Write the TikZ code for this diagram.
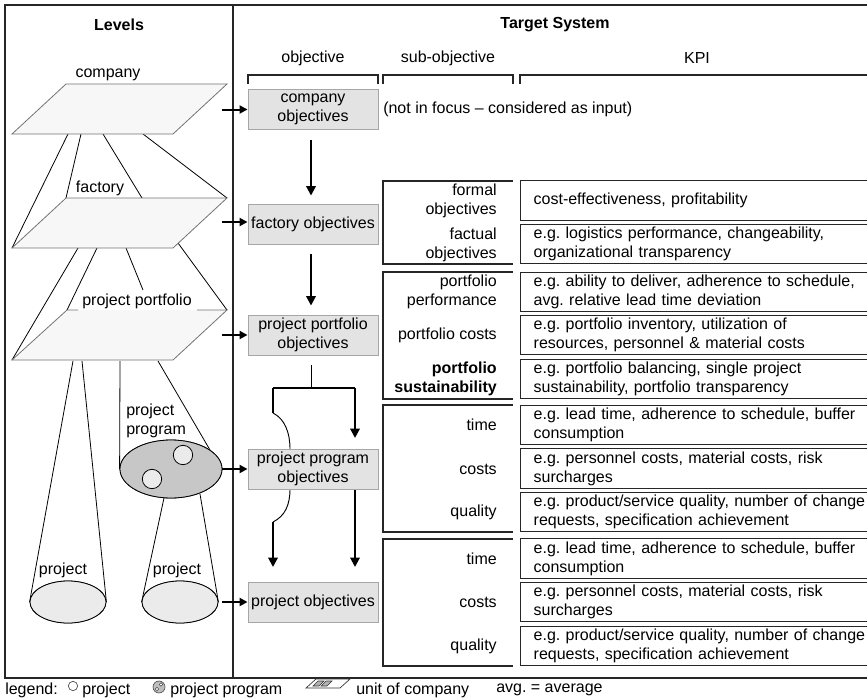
\documentclass[tikz,border=0pt]{standalone}
\usepackage{fontspec}
\setmainfont{Liberation Sans}
\usetikzlibrary{arrows.meta,calc,shapes.geometric}
\frenchspacing
\begin{document}
\begin{tikzpicture}[x=0.75pt,y=-0.75pt,
  every node/.style={font=\fontsize{12}{14.2}\selectfont, inner sep=0pt},
  objbox/.style={draw=black!35, fill=black!11, minimum width=97.5pt, minimum height=30pt, align=center, line width=0.7pt},
  kpi/.style={draw=black!85, line width=1pt, minimum height=29.6pt, text width=300pt, align=left, inner xsep=9.75pt, anchor=west},
  sublbl/.style={anchor=east, align=right},
  grp/.style={draw=black!85, line width=1pt},
  hdr/.style={draw=black!85, line width=1pt},
  frame/.style={draw=black!85, line width=1.1pt},
  level/.style={draw=black!55, fill=black!3, line width=0.6pt},
  cone/.style={draw=black, line width=0.6pt},
  inarrow/.style={line width=1.5pt, -{Triangle[length=6pt,width=6pt]}},
  thickarrow/.style={line width=1.5pt, -{Triangle[length=7pt,width=7pt]}},
  thinline/.style={line width=0.7pt},
  thickline/.style={line width=1.5pt},
  projell/.style={draw=black, ellipse, fill=black!8, line width=0.6pt, minimum width=57pt, minimum height=31.5pt},
  progell/.style={draw=black, ellipse, fill=black!22, line width=0.6pt, minimum width=76.5pt, minimum height=43.5pt},
  smallcirc/.style={draw=black, circle, fill=black!8, line width=0.6pt, minimum size=14.5pt}
]
\useasboundingbox (0,0) rectangle (867,699);

% frame
\draw[frame] (5,5) rectangle (890,678);
\draw[frame] (233,5) -- (233,678);

% headers
\node[font=\fontsize{12}{14}\selectfont\bfseries] (hlev) at (119,25) {Levels};
\node[font=\fontsize{12}{14}\selectfont\bfseries] (hts) at (555,25) {Target System};
\node (hobj) at (313,58) {objective};
\node (hsub) at (448,58) {sub-objective};
\node (hkpi) at (697,58) {KPI};
\draw[hdr] (248,84) -- (248,75) -- (378,75) -- (378,84);
\draw[hdr] (383,84) -- (383,75) -- (513,75) -- (513,84);
\draw[hdr] (520,84) -- (520,75) -- (900,75);

% ---------- Levels ----------
% connecting lines company -> factory
\draw[cone] (68,134) -- (12,248);
\draw[cone] (81,134) -- (66,198);
\draw[cone] (103,134) -- (142,198);
\draw[cone] (143,134) -- (227,198);
% factory -> portfolio
\draw[cone] (78,248) -- (12,360);
\draw[cone] (97,248) -- (67,310);
\draw[cone] (126,248) -- (143,290);
\draw[cone] (178,243) -- (227,310);

\filldraw[level] (66,84) -- (227,84) -- (173,134) -- (12,134) -- cycle;
\filldraw[level] (66,198) -- (227,198) -- (173,248) -- (12,248) -- cycle;
\fill[black!3] (67,310) -- (227,310) -- (173,360) -- (12,360) -- cycle;
\draw[level] (78,310) -- (67,310) -- (12,360) -- (173,360) -- (227,310) -- (197,310);

\node (lcomp) at (108,75) {company};
\node (lfact) at (100,188) {factory};
\node (lport) at (137,301) {project portfolio};

% project program and projects
\node[progell] (pp) at (171,469) {};
\node[projell] (pa) at (68,602) {};
\node[projell] (pb) at (180,602) {};
\draw[cone] (73,361) -- (pa.west);
\draw[cone] (82,361) -- (pa.east);
\draw[cone] (120,361) -- (pp.west);
\draw[cone] (158,361) -- (210,450);
\draw[cone] (164,498) -- (pb.west);
\draw[cone] (200,494) -- (pb.east);
\node[progell] at (171,469) {};
\node[projell] at (68,602) {};
\node[projell] at (180,602) {};
\node[smallcirc] (c1) at (183,455) {};
\node[smallcirc] (c2) at (152,479) {};
\node[anchor=west, align=left] (lprog) at (126,421) {project\\program};
\node (lpa) at (63,570) {project};
\node (lpb) at (177,570) {project};

% ---------- objectives ----------
\node[objbox] (co) at (313,109.5) {company\\objectives};
\node[objbox] (fa) at (313,224) {factory objectives};
\node[objbox] (po) at (313,335) {project portfolio\\objectives};
\node[objbox] (pg) at (313,469) {project program\\objectives};
\node[objbox] (pj) at (313,602) {project objectives};

\coordinate (ico) at (222,109.5);
\coordinate (ifa) at (222,222);
\coordinate (ipo) at (222,335);
\coordinate (ipj) at (222,602);
\draw[inarrow] (ico) -- (co.west);
\draw[inarrow] (ifa) -- (fa.west |- ifa);
\draw[inarrow] (ipo) -- (po.west);
\draw[inarrow] (pp.east) -- (pg.west);
\draw[inarrow] (ipj) -- (pj.west);

\draw[thickarrow] ($(co.south)+(-2,10)$) -- ($(fa.north)+(-2,-8)$);
\draw[thickarrow] ($(fa.south)+(-2,10)$) -- ($(po.north)+(-2,-9)$);
\coordinate (br) at (311,388);
\coordinate (bl) at (273,388);
\coordinate (brr) at (355,388);
\draw[thinline] ($(po.south)+(-2,10)$) -- (br);
\draw[thickline] (bl) -- (brr);
\draw[thickarrow] (brr) -- (355,438);
\draw[thickline] (bl) -- (273,413);
\draw[thinline] (273,413) .. controls (285,419) and (290,433) .. (290,449);
\draw[thinline] (290,489) .. controls (290,505) and (285,516) .. (273,522);
\draw[thickarrow] (273,522) -- (273,567);
\draw[thickarrow] (355,489) -- (355,567);
\node[objbox] at (313,469) {project program\\objectives};

% ---------- company row ----------
\node[anchor=west] (nf) at (383,109.5) {(not in focus -- considered as input)};

% ---------- sub-objective groups ----------
\draw[grp] (513,181) -- (383,181) -- (383,264) -- (513,264);
\draw[grp] (513,272) -- (383,272) -- (383,399) -- (513,399);
\draw[grp] (513,405) -- (383,405) -- (383,532) -- (513,532);
\draw[grp] (513,539) -- (383,539) -- (383,666) -- (513,666);

\node[sublbl] (s1) at (497,201) {formal\\objectives};
\node[sublbl] (s2) at (497,245) {factual\\objectives};
\node[sublbl] (s3) at (497,292) {portfolio\\performance};
\node[sublbl] (s4) at (497,335) {portfolio costs};
\node[sublbl, font=\fontsize{12}{14.2}\selectfont\bfseries] (s5) at (497,379) {portfolio\\sustainability};
\node[sublbl] (s6) at (497,425) {time};
\node[sublbl] (s7) at (497,469) {costs};
\node[sublbl] (s8) at (497,512) {quality};
\node[sublbl] (s9) at (497,559) {time};
\node[sublbl] (s10) at (497,602) {costs};
\node[sublbl] (s11) at (497,646) {quality};

% ---------- KPI boxes ----------
\node[kpi] (k1) at (520,200.5) {cost-effectiveness, profitability};
\node[kpi] (k2) at (520,244) {e.g. logistics performance, changeability,\\organizational transparency};
\node[kpi] (k3) at (520,292) {e.g. ability to deliver, adherence to schedule,\\avg. relative lead time deviation};
\node[kpi] (k4) at (520,335) {e.g. portfolio inventory, utilization of\\resources, personnel \& material costs};
\node[kpi] (k5) at (520,379) {e.g. portfolio balancing, single project\\sustainability, portfolio transparency};
\node[kpi] (k6) at (520,425) {e.g. lead time, adherence to schedule, buffer\\consumption};
\node[kpi] (k7) at (520,468.5) {e.g. personnel costs, material costs, risk\\surcharges};
\node[kpi] (k8) at (520,512) {e.g. product/service quality, number of change\\requests, specification achievement};
\node[kpi] (k9) at (520,558.5) {e.g. lead time, adherence to schedule, buffer\\consumption};
\node[kpi] (k10) at (520,602) {e.g. personnel costs, material costs, risk\\surcharges};
\node[kpi] (k11) at (520,646) {e.g. product/service quality, number of change\\requests, specification achievement};

% ---------- legend ----------
\node[anchor=west] (lg) at (5,690) {legend:};
\node[draw=black!70, circle, fill=white, line width=0.5pt, minimum size=7pt] (lgc) at (73,686) {};
\node[anchor=west] (lgp) at (82,690) {project};
\node[draw=black!70, circle, fill=black!25, line width=0.5pt, minimum size=9pt] (lgpp) at (159,687) {};
\node[draw=black!70, circle, fill=white, line width=0.3pt, minimum size=2.6pt] at (161,684.5) {};
\node[draw=black!70, circle, fill=white, line width=0.3pt, minimum size=2.6pt] at (157,689) {};
\node[anchor=west] (lgpt) at (170,690) {project program};
\filldraw[draw=black!80, fill=white, line width=0.5pt] (316,679) -- (350,679) -- (340,688) -- (306,688) -- cycle;
\filldraw[draw=black!80, fill=black!30, line width=0.4pt] (318,681) -- (324,681) -- (319,686) -- (313,686) -- cycle;
\filldraw[draw=black!80, fill=black!30, line width=0.4pt] (326,681) -- (332,681) -- (327,686) -- (321,686) -- cycle;
\node[anchor=west] (lgu) at (356,690) {unit of company};
\node[anchor=west] (lga) at (496,690) {avg. = average};
\end{tikzpicture}
\end{document}
